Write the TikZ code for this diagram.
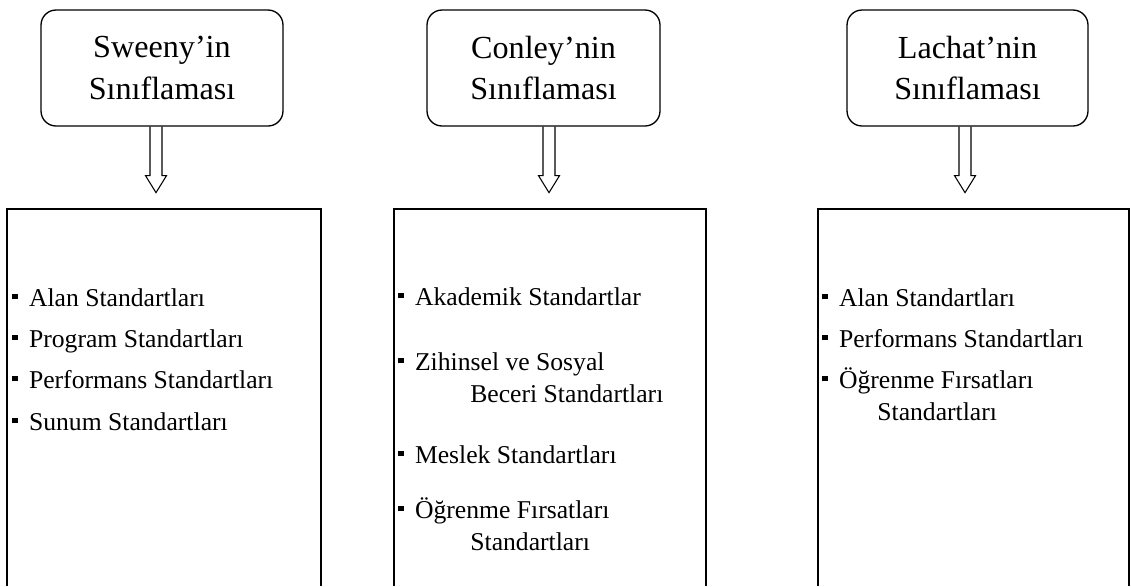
\documentclass[tikz,border=0pt]{standalone}
\usepackage{fontspec}
\setmainfont{Liberation Serif}
\newcommand{\sqb}{\rule[3.8pt]{3.3pt}{3.3pt}\hspace{6.2pt}}
\tikzset{
  topbox/.style={draw, line width=0.75pt, rounded corners=0.3cm, align=center,
    minimum height=2.32cm, inner sep=0pt, font=\fontsize{18.3}{23.8}\selectfont},
  frame/.style={line width=1.1pt},
  hollow/.style={line width=0.6pt, line join=miter},
  itemtext/.style={anchor=base west, inner sep=0pt, font=\fontsize{14.6}{18}\selectfont}
}
\begin{document}
\begin{tikzpicture}[x=0.02cm, y=-0.02cm]
				\useasboundingbox (0,0) rectangle (1131,586);
				
				% ust kutular
				\node[topbox, minimum width=4.84cm] (sw) at (162,68) {Sweeny’in\\Sınıflaması};
				\node[topbox, minimum width=4.66cm] (cn) at (543.5,68) {Conley’nin\\Sınıflaması};
				\node[topbox, minimum width=4.82cm] (lc) at (967.5,68) {Lachat’nin\\Sınıflaması};
				
				% oklar
				\draw[hollow] ([xshift=-0.24cm]sw.south) -- ++(0,49) -- ++(-4.5,0) -- ++(10.5,17) -- ++(10.5,-17) -- ++(-4.5,0) -- ([xshift=-0.0cm]sw.south);
				\draw[hollow] ([xshift=-0.01cm]cn.south) -- ++(0,49) -- ++(-4.5,0) -- ++(10.5,17) -- ++(10.5,-17) -- ++(-4.5,0) -- ([xshift=0.23cm]cn.south);
				\draw[hollow] ([xshift=-0.17cm]lc.south) -- ++(0,49) -- ++(-4.5,0) -- ++(10.5,17) -- ++(10.5,-17) -- ++(-4.5,0) -- ([xshift=0.07cm]lc.south);
				
				% alt kutular
				\draw[frame] (7,586) |- (321,209) -- (321,586);
				\draw[frame] (394,586) |- (706,209) -- (706,586);
				\draw[frame] (818,586) |- (1129,209) -- (1129,586);
				
				% Sweeny
				\node[itemtext] (sw1) at (12,306) {\sqb Alan Standartları};
				\node[itemtext] (sw2) at (12,347) {\sqb Program Standartları};
				\node[itemtext] (sw3) at (12,388) {\sqb Performans Standartları};
				\node[itemtext] (sw4) at (12,430) {\sqb Sunum Standartları};
				
				% Conley
				\node[itemtext] (cn1) at (398,305) {\sqb Akademik Standartlar};
				\node[itemtext] (cn2) at (398,370) {\sqb Zihinsel ve Sosyal};
				\node[itemtext] (cn2b) at (470,402) {Beceri Standartları};
				\node[itemtext] (cn3) at (398,463) {\sqb Meslek Standartları};
				\node[itemtext] (cn4) at (398,518) {\sqb Öğrenme Fırsatları};
				\node[itemtext] (cn4b) at (470,550) {Standartları};
				
				% Lachat
				\node[itemtext] (lc1) at (822,306) {\sqb Alan Standartları};
				\node[itemtext] (lc2) at (822,347) {\sqb Performans Standartları};
				\node[itemtext] (lc3) at (822,388) {\sqb Öğrenme Fırsatları};
				\node[itemtext] (lc3b) at (877,420) {Standartları};
			\end{tikzpicture}
\end{document}
